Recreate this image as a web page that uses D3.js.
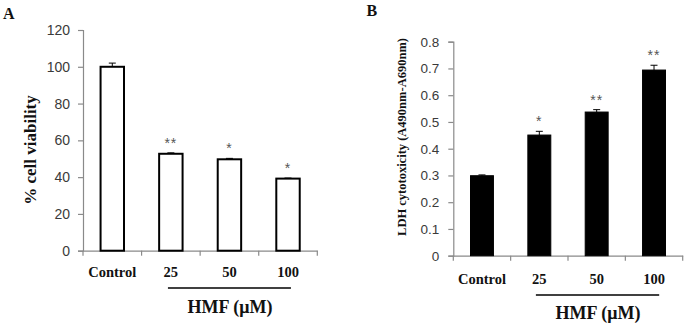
<!DOCTYPE html>
<html><head><meta charset="utf-8">
<script src="https://cdn.jsdelivr.net/npm/d3@7"></script>
<style>html,body{margin:0;padding:0;background:#fff;}svg{display:block;}</style>
</head><body>
<svg id="chart" width="686" height="324"></svg>
<script>
const categories = ["Control", "25", "50", "100"];
const viability = [100, 52.7, 49.7, 39.2];
const viabilityErr = [2, 0.5, 0.5, 0.3];
const viabilityStars = ["", "**", "*", "*"];
const viabilityTicks = [0, 20, 40, 60, 80, 100, 120];
const ldh = [0.299, 0.451, 0.537, 0.694];
const ldhErr = [0.003, 0.014, 0.009, 0.018];
const ldhStars = ["", "*", "**", "**"];
const ldhTicks = [0, 0.1, 0.2, 0.3, 0.4, 0.5, 0.6, 0.7, 0.8];

const svg = d3.select("#chart");
const serif = "'Liberation Serif','Times New Roman',serif";
const sans = "'Liberation Sans',Arial,sans-serif";
const axisColor = "#8a8a8a";

function panel(o) {
  const g = svg.append("g");
  const x = d3.scaleBand().domain(categories).range([o.left, o.right]).padding(0);
  const y = d3.scaleLinear().domain([0, o.max]).range([o.bottom, o.top]);

  // y axis
  const ya = g.append("g").attr("transform", `translate(${o.left},0)`)
    .call(d3.axisLeft(y).tickValues(o.ticks).tickSize(5).tickPadding(o.tickPad).tickFormat(o.fmt));
  ya.select(".domain").attr("stroke", axisColor).attr("stroke-width", 1.2);
  ya.selectAll(".tick line").attr("stroke", axisColor).attr("stroke-width", 1.2);
  ya.selectAll(".tick text").attr("font-family", sans).attr("font-size", o.tickFont).attr("fill", "#3a3a3a");

  // x axis
  const xa = g.append("g").attr("transform", `translate(0,${o.bottom})`)
    .call(d3.axisBottom(x).tickSize(0).tickPadding(o.catPad));
  xa.select(".domain").attr("stroke", axisColor).attr("stroke-width", 1.2);
  xa.selectAll(".tick text").attr("font-family", serif).attr("font-weight", "bold")
    .attr("font-size", 14.5).attr("fill", "#111");
  const bounds = categories.map(c => x(c)).concat([x(categories[categories.length - 1]) + x.bandwidth()]);
  g.selectAll(".xb").data(bounds).join("line")
    .attr("x1", d => d).attr("x2", d => d).attr("y1", o.bottom).attr("y2", o.bottom + 5)
    .attr("stroke", axisColor).attr("stroke-width", 1.2);

  const bw = x.bandwidth() * o.barFrac;
  const cx = c => x(c) + x.bandwidth() / 2;
  g.selectAll(".bar").data(categories).join("rect")
    .attr("x", c => cx(c) - bw / 2)
    .attr("y", (c, i) => y(o.values[i]))
    .attr("width", bw)
    .attr("height", (c, i) => o.bottom - y(o.values[i]))
    .attr("fill", o.fill).attr("stroke", "#000").attr("stroke-width", o.strokeW);

  // error bars
  g.selectAll(".err").data(categories).join("line")
    .attr("x1", cx).attr("x2", cx)
    .attr("y1", (c, i) => y(o.values[i])).attr("y2", (c, i) => y(o.values[i] + o.errs[i]))
    .attr("stroke", "#000").attr("stroke-width", 1);
  g.selectAll(".cap").data(categories).join("line")
    .attr("x1", c => cx(c) - 3.5).attr("x2", c => cx(c) + 3.5)
    .attr("y1", (c, i) => y(o.values[i] + o.errs[i])).attr("y2", (c, i) => y(o.values[i] + o.errs[i]))
    .attr("stroke", "#000").attr("stroke-width", 1);

  // stars
  g.selectAll(".star").data(categories).join("text")
    .attr("x", cx)
    .attr("y", (c, i) => y(o.values[i] + o.errs[i]) - o.starGap)
    .attr("text-anchor", "middle").attr("font-family", sans).attr("font-size", 14)
    .attr("fill", "#555").attr("letter-spacing", 1)
    .text((c, i) => o.stars[i]);

  // HMF underline
  const lx1 = x(categories[1]) + x.bandwidth() * o.lineF1, lx2 = x(categories[3]) + x.bandwidth() * o.lineF2;
  g.append("line").attr("x1", lx1).attr("x2", lx2).attr("y1", o.lineY).attr("y2", o.lineY)
    .attr("stroke", "#000").attr("stroke-width", 1.3);
  g.append("text").attr("x", o.hmfX).attr("y", o.hmfY).attr("text-anchor", "middle")
    .attr("font-family", serif).attr("font-weight", "bold").attr("font-size", 18)
    .attr("fill", "#111").text("HMF (μM)");

  // y label
  g.append("text").attr("transform", `translate(${o.ylabX},${o.ylabY}) rotate(-90)`)
    .attr("text-anchor", "middle").attr("font-family", serif).attr("font-weight", "bold")
    .attr("font-size", o.ylabFont).attr("fill", "#111").text(o.ylab);

  // panel letter
  g.append("text").attr("x", o.letterX).attr("y", o.letterY)
    .attr("font-family", serif).attr("font-weight", "bold").attr("font-size", 16)
    .attr("fill", "#111").text(o.letter);
}

panel({
  left: 83, right: 317.3, top: 30, bottom: 250.7, max: 120,
  ticks: viabilityTicks, fmt: d3.format("d"), tickPad: 8, tickFont: 14,
  values: viability, errs: viabilityErr, stars: viabilityStars,
  fill: "#fff", strokeW: 2, barFrac: 0.40, catPad: 16, starGap: 5,
  lineY: 288, lineF1: 0.45, lineF2: 0.55, hmfX: 230, hmfY: 313,
  ylab: "% cell viability", ylabX: 36, ylabY: 150, ylabFont: 17,
  letter: "A", letterX: 3, letterY: 18.5
});

panel({
  left: 453.3, right: 682.7, top: 41.7, bottom: 255.7, max: 0.8,
  ticks: ldhTicks, fmt: d => d === 0 ? "0" : d3.format(".1f")(d), tickPad: 9, tickFont: 13.5,
  values: ldh, errs: ldhErr, stars: ldhStars,
  fill: "#000", strokeW: 1, barFrac: 0.40, catPad: 18, starGap: 5,
  lineY: 295, lineF1: 0.44, lineF2: 0.59, hmfX: 598, hmfY: 319,
  ylab: "LDH cytotoxicity (A490nm-A690nm)", ylabX: 406, ylabY: 137, ylabFont: 12.5,
  letter: "B", letterX: 366.5, letterY: 15.5
});
</script>
</body></html>
